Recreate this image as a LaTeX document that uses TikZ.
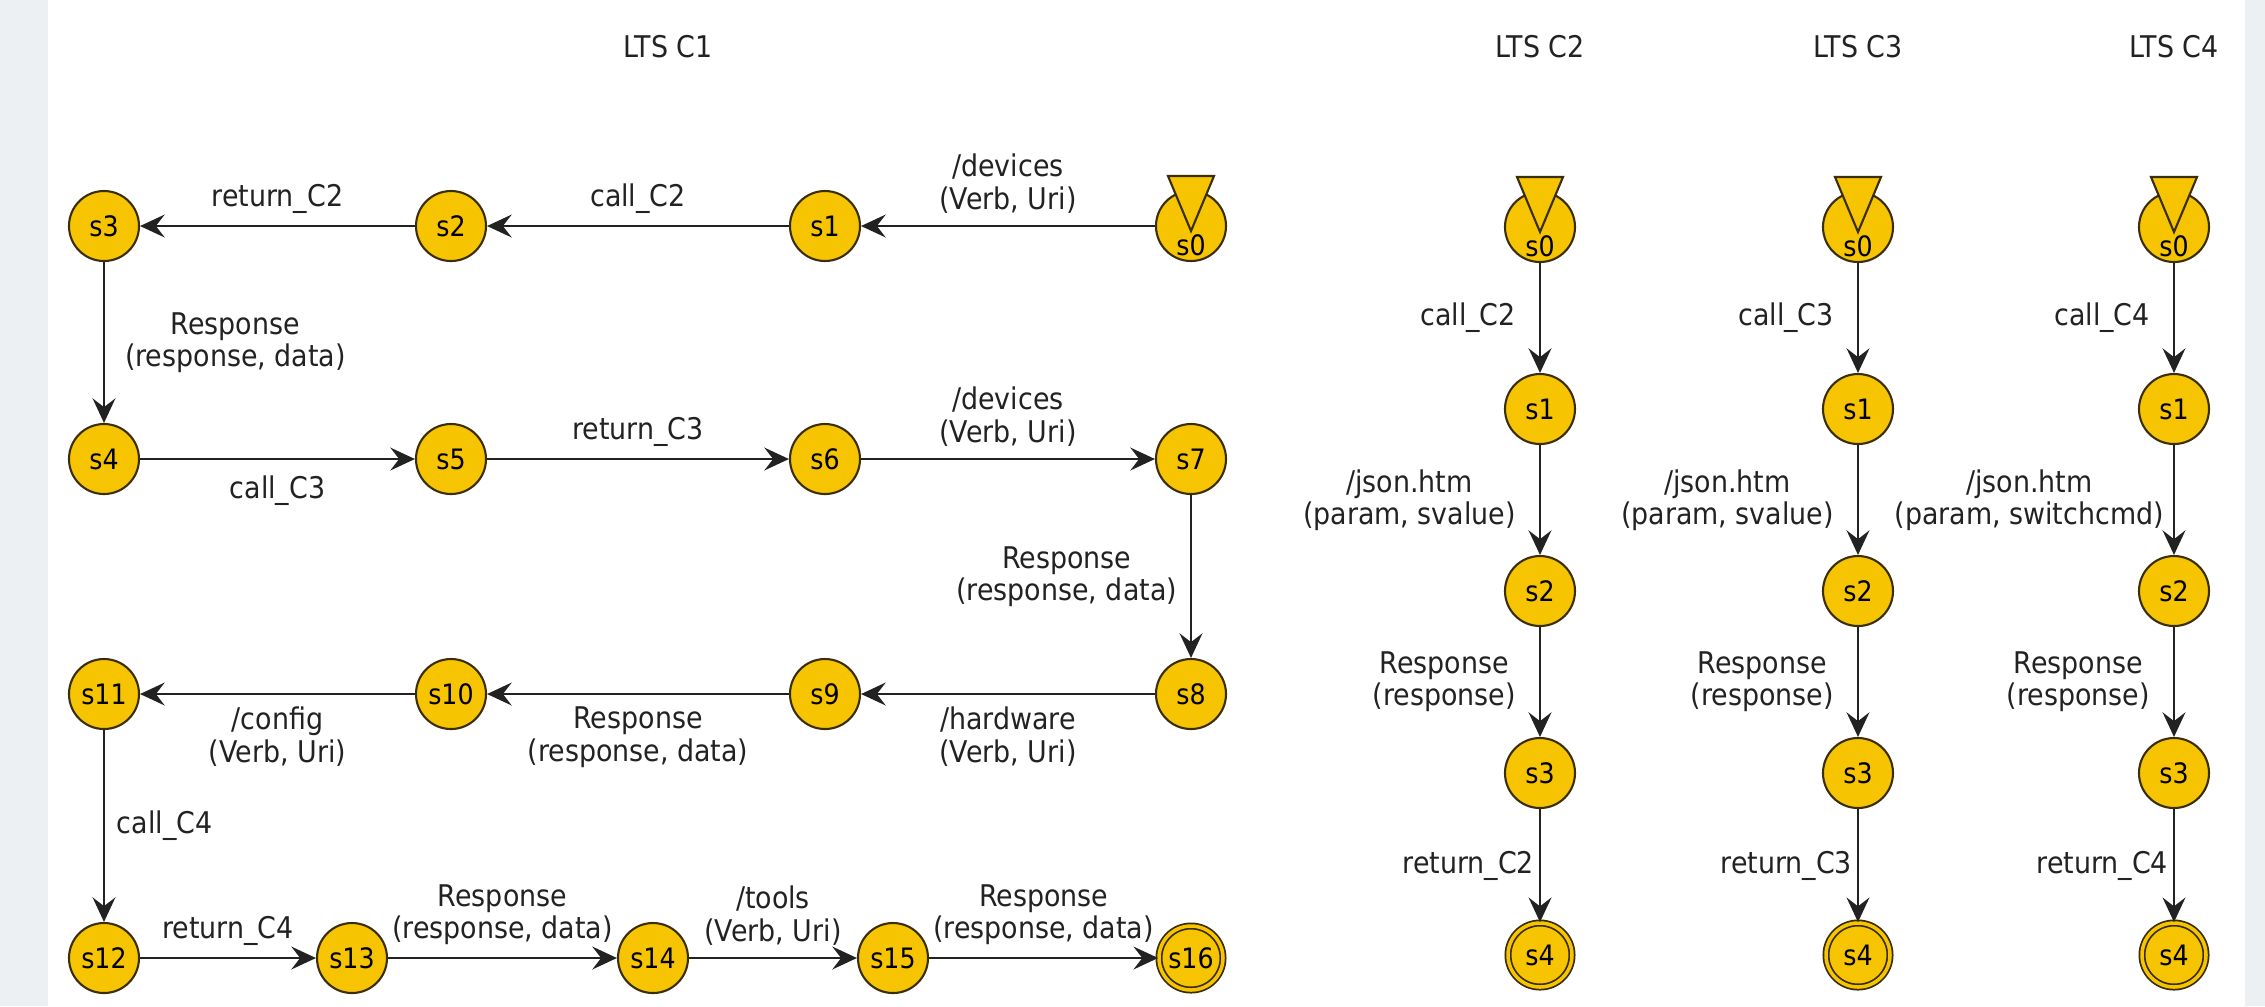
\documentclass[tikz,border=0pt]{standalone}
\usepackage{fontspec}
\setmainfont{DejaVu Sans}[FakeStretch=0.9]
\usetikzlibrary{arrows.meta}
\definecolor{stateyellow}{RGB}{246,196,0}
\definecolor{stateborder}{RGB}{58,46,8}
\definecolor{edgegray}{RGB}{34,34,34}
\definecolor{sidegray}{RGB}{236,240,242}

\begin{document}
\begin{tikzpicture}[node distance=1.82cm, >={Stealth[length=7pt,width=6.5pt,inset=2.5pt]}]
	\useasboundingbox (0,0) rectangle (22.65,-10.06);
	\fill[sidegray] (0,0) rectangle (0.48,-10.06);
	\fill[sidegray] (22.45,0) rectangle (22.65,-10.06);
	\tikzstyle{state}=[circle,fill=stateyellow,draw=stateborder,line width=0.6pt,minimum size=0.7cm,inner sep=0pt,font=\fontsize{8}{9}\selectfont]
	\tikzstyle{final}=[state,line width=0.5pt,double=stateyellow,double distance=1pt,minimum size=0.64cm]
	\tikzstyle{init}=[fill=stateyellow,draw=stateborder,line width=0.6pt]
	\tikzstyle{lbl}=[font=\fontsize{8.5}{9.2}\selectfont,align=center,text=edgegray]

	% LTS C1
	\node[state] (s0) at (11.91,-2.26) {\raisebox{-8.5pt}[0pt][0pt]{s0}};
	\node[state, node distance=3.66cm, left of=s0] (s1) {s1};
	\node[state, node distance=3.74cm, left of=s1] (s2) {s2};
	\node[state, node distance=3.47cm, left of=s2] (s3) {s3};
	\node[state, node distance=2.33cm, below of=s3] (s4) {s4};
	\node[state, node distance=3.47cm, right of=s4] (s5) {s5};
	\node[state, node distance=3.74cm, right of=s5] (s6) {s6};
	\node[state, node distance=3.66cm, right of=s6] (s7) {s7};
	\node[state, node distance=2.35cm, below of=s7] (s8) {s8};
	\node[state, node distance=3.66cm, left of=s8] (s9) {s9};
	\node[state, node distance=3.74cm, left of=s9] (s10) {s10};
	\node[state, node distance=3.47cm, left of=s10] (s11) {s11};
	\node[state, node distance=2.64cm, below of=s11] (s12) {s12};
	\node[state, node distance=2.48cm, right of=s12] (s13) {s13};
	\node[state, node distance=3.01cm, right of=s13] (s14) {s14};
	\node[state, node distance=2.40cm, right of=s14] (s15) {s15};
	\node[final, node distance=2.98cm, right of=s15] (s16) {s16};
	\node[lbl] (t1) at (6.68,-0.47) {LTS C1};

	% LTS C2
	\node[state] (p0) at (15.40,-2.27) {\raisebox{-8.5pt}[0pt][0pt]{s0}};
	\node[state, below of=p0] (p1) {s1};
	\node[state, below of=p1] (p2) {s2};
	\node[state, below of=p2] (p3) {s3};
	\node[final, below of=p3] (p4) {s4};
	\node[lbl, node distance=1.8cm, above of=p0] (t2) {LTS C2};

	% LTS C3
	\node[state] (q0) at (18.58,-2.27) {\raisebox{-8.5pt}[0pt][0pt]{s0}};
	\node[state, below of=q0] (q1) {s1};
	\node[state, below of=q1] (q2) {s2};
	\node[state, below of=q2] (q3) {s3};
	\node[final, below of=q3] (q4) {s4};
	\node[lbl, node distance=1.8cm, above of=q0] (t3) {LTS C3};

	% LTS C4
	\node[state] (r0) at (21.74,-2.27) {\raisebox{-8.5pt}[0pt][0pt]{s0}};
	\node[state, below of=r0] (r1) {s1};
	\node[state, below of=r1] (r2) {s2};
	\node[state, below of=r2] (r3) {s3};
	\node[final, below of=r3] (r4) {s4};
	\node[lbl, node distance=1.8cm, above of=r0] (t4) {LTS C4};

	% initial markers
	\foreach \n in {s0,p0,q0,r0}
		\draw[init] ([shift={(-0.23,0.5)}]\n.center) -- ([shift={(0.23,0.5)}]\n.center) -- ([shift={(0,-0.05)}]\n.center) -- cycle;

	\begin{scope}[->, line width=0.7pt, draw=edgegray]
		\draw (s0) -- node[lbl,above] {/devices\\(Verb, Uri)} (s1);
		\draw (s1) -- node[lbl,above] {call\_C2} (s2);
		\draw (s2) -- node[lbl,above] {return\_C2} (s3);
		\draw (s3) -- node[lbl,right=2.3pt] {Response\\(response, data)} (s4);
		\draw (s4) -- node[lbl,below=1pt] {call\_C3} (s5);
		\draw (s5) -- node[lbl,above] {return\_C3} (s6);
		\draw (s6) -- node[lbl,above] {/devices\\(Verb, Uri)} (s7);
		\draw (s7) -- node[lbl,left=0.3pt] {Response\\(response, data)} (s8);
		\draw (s8) -- node[lbl,below] {/hardware\\(Verb, Uri)} (s9);
		\draw (s9) -- node[lbl,below] {Response\\(response, data)} (s10);
		\draw (s10) -- node[lbl,below] {/config\\(Verb, Uri)} (s11);
		\draw (s11) -- node[lbl,right=0pt] {call\_C4} (s12);
		\draw (s12) -- node[lbl,above] {return\_C4} (s13);
		\draw (s13) -- node[lbl,above] {Response\\(response, data)} (s14);
		\draw (s14) -- node[lbl,above] {/tools\\(Verb, Uri)} (s15);
		\draw (s15) -- node[lbl,above] {Response\\(response, data)} (s16);

		\draw (p0) -- node[lbl,left=3.2pt] {call\_C2} (p1);
		\draw (p1) -- node[lbl,left=3.2pt] {/json.htm\\(param, svalue)} (p2);
		\draw (p2) -- node[lbl,left=3.2pt] {Response\\(response)} (p3);
		\draw (p3) -- node[lbl,left=-2pt] {return\_C2} (p4);

		\draw (q0) -- node[lbl,left=3.2pt] {call\_C3} (q1);
		\draw (q1) -- node[lbl,left=3.2pt] {/json.htm\\(param, svalue)} (q2);
		\draw (q2) -- node[lbl,left=3.2pt] {Response\\(response)} (q3);
		\draw (q3) -- node[lbl,left=-2pt] {return\_C3} (q4);

		\draw (r0) -- node[lbl,left=3.2pt] {call\_C4} (r1);
		\draw (r1) -- node[lbl,left=-0.8pt] {/json.htm\\(param, switchcmd)} (r2);
		\draw (r2) -- node[lbl,left=3.2pt] {Response\\(response)} (r3);
		\draw (r3) -- node[lbl,left=-2pt] {return\_C4} (r4);
	\end{scope}
\end{tikzpicture}
\end{document}
